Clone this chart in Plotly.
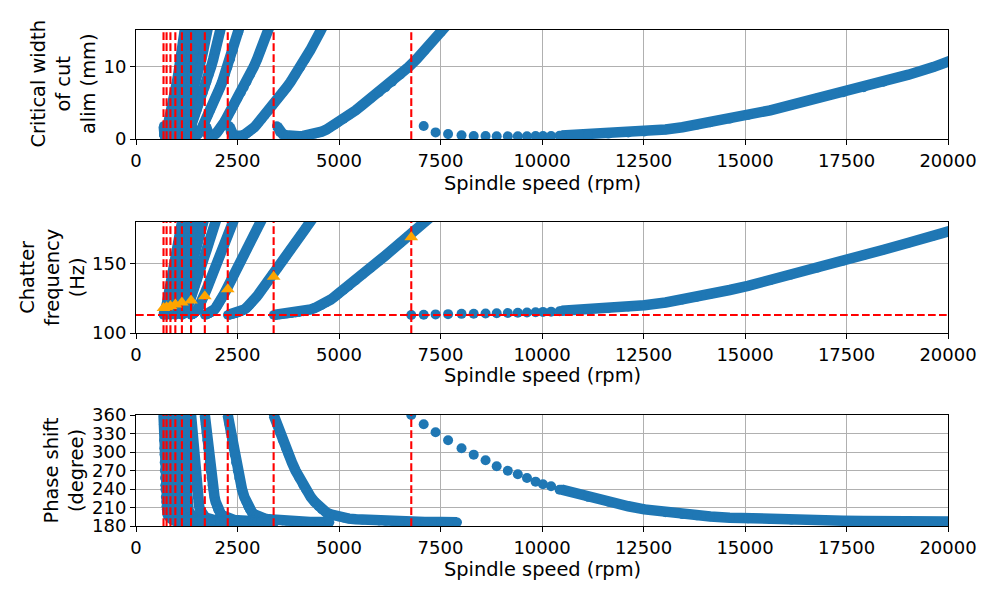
import plotly.graph_objects as go

# ---------------- data ----------------
# shared chatter-frequency samples along every lobe
fc_hz = [113.0, 113.2, 113.4, 113.6, 113.8, 114.0, 114.3, 114.6, 115.0, 115.5, 116, 117, 118, 119, 120,
         122, 124, 126, 128, 131, 134, 138, 142, 147, 152, 156, 160, 165, 170, 175, 180, 190, 200]
phase_deg = [360, 345, 332, 319, 306, 296, 283, 270, 258, 246, 239, 227, 219, 212, 207,
             202, 199, 197, 195.5, 193.5, 192, 190.8, 190, 189.2, 188.5, 188, 187.7, 187.3, 187, 186.8, 186.6, 186.3, 186]
alim_mm = [None, 1.80, 0.95, 0.68, 0.52, 0.45, 0.40, 0.38, 0.39, 0.43, 0.48, 0.60, 0.72, 0.86, 1.00,
           1.30, 1.62, 1.95, 2.28, 2.78, 3.30, 3.95, 4.70, 5.60, 6.40, 7.10, 7.85, 8.85, 9.90, 11.0, 12.2, 14.7, 17.3]

# spindle speed (rpm) of each lobe at the samples above
speed_lobe0 = [None, None, None, None, None, None, None, None, None, None, 10484, 11133, 11638, 12125, 12522,
               13046, 13459, 13815, 14142, 14623, 15075, 15623, 16143, 16782, 17418, 17923, 18412, 19028, 19636, 20236, 20836, 22030, 23226]
speed_lobe1 = [3390, 3468, 3540, 3614, 3691, 3754, 3840, 3929, 4019, 4117, 4183, 4305, 4402, 4494, 4571,
               4689, 4791, 4886, 4977, 5112, 5243, 5412, 5577, 5782, 5986, 6149, 6310, 6512, 6713, 6913, 7113, 7512, 7912]
speed_lobe2 = [2260, 2296, 2328, 2362, 2396, 2424, 2461, 2500, 2540, 2583, 2613, 2669, 2714, 2758, 2796,
               2858, 2914, 2968, 3020, 3098, 3174, 3273, 3371, 3492, 3614, 3711, 3807, 3928, 4049, 4169, 4289, 4528, 4768]
speed_lobe3 = [1695, 1716, 1735, 1754, 1774, 1790, 1811, 1834, 1857, 1881, 1900, 1934, 1962, 1989, 2014,
               2056, 2094, 2131, 2168, 2222, 2275, 2346, 2415, 2502, 2588, 2657, 2726, 2812, 2898, 2984, 3070, 3241, 3412]
speed_lobe4 = [1356, 1370, 1382, 1395, 1408, 1418, 1433, 1448, 1463, 1480, 1492, 1516, 1536, 1556, 1574,
               1605, 1634, 1663, 1690, 1732, 1774, 1828, 1882, 1949, 2016, 2070, 2123, 2190, 2257, 2324, 2390, 2524, 2657]
speed_lobe5 = [1130, 1140, 1149, 1158, 1167, 1175, 1185, 1196, 1207, 1219, 1229, 1247, 1262, 1278, 1291,
               1316, 1340, 1363, 1386, 1419, 1453, 1497, 1541, 1596, 1651, 1695, 1739, 1793, 1848, 1903, 1957, 2066, 2175]
speed_lobe6 = [969, 976, 983, 990, 997, 1003, 1011, 1019, 1027, 1037, 1044, 1059, 1071, 1084, 1095,
               1116, 1135, 1155, 1174, 1202, 1231, 1268, 1305, 1352, 1398, 1435, 1472, 1518, 1565, 1611, 1657, 1749, 1841]
speed_lobe7 = [848, 853, 859, 864, 870, 874, 881, 887, 894, 902, 908, 920, 931, 941, 951,
               968, 985, 1002, 1018, 1043, 1067, 1100, 1132, 1172, 1212, 1244, 1276, 1316, 1357, 1397, 1437, 1517, 1597]
speed_lobe8 = [753, 758, 763, 767, 772, 775, 781, 786, 792, 798, 803, 813, 823, 831, 840,
               855, 870, 885, 899, 921, 942, 971, 999, 1035, 1070, 1098, 1127, 1162, 1197, 1233, 1268, 1338, 1409]
speed_lobe9 = [678, 682, 686, 689, 693, 696, 701, 705, 710, 716, 720, 729, 737, 745, 752,
               766, 779, 792, 805, 824, 843, 869, 894, 926, 958, 983, 1008, 1040, 1072, 1103, 1135, 1198, 1261]

# widely spaced first points of lobe 0 (drawn as single dots)
lobe0_dot_speed = [6780, 7086, 7379, 7687, 8018, 8318, 8610, 8884, 9158, 9404, 9630, 9842, 10024, 10224, 10433]
lobe0_dot_alim = [None, 1.78, 0.91, 0.68, 0.50, 0.42, 0.40, 0.38, 0.38, 0.38, 0.39, 0.40, 0.41, 0.42, 0.45]
lobe0_dot_freq = [113.0, 113.2, 113.4, 113.6, 113.8, 113.9, 114.1, 114.2, 114.4, 114.6, 114.8, 115.0, 115.2, 115.4, 115.7]
lobe0_dot_phase = [360, 345, 332, 319, 306, 295.7, 286.5, 276.8, 269.7, 263.8, 257.9, 251.9, 247.6, 244.4, 238.9]

# red dashed markers: lobe start speeds and natural frequency
lobe_start_speeds = [6780, 3390, 2260, 1695, 1356, 1130, 969, 848, 753, 678]
natural_freq_hz = 113
# orange triangles in the frequency panel
triangle_freq = [169, 140.5, 131.5, 126.5, 123.5, 122, 120.5, 119.5, 118.5, 118]

x_ticks = [0, 2500, 5000, 7500, 10000, 12500, 15000, 17500, 20000]
x_range = [0, 20000]
alim_range = [0, 15]
freq_range = [100, 180]
phase_range = [180, 360]
alim_ticks = [0, 10]
freq_ticks = [100, 150]
phase_ticks = [180, 210, 240, 270, 300, 330, 360]

lobes = [speed_lobe0, speed_lobe1, speed_lobe2, speed_lobe3, speed_lobe4,
         speed_lobe5, speed_lobe6, speed_lobe7, speed_lobe8, speed_lobe9]

# ---------------- styling ----------------
BLUE = "#1f77b4"
RED = "#ff0000"
ORANGE = "#ffa500"
FONT = "DejaVu Sans"
LW = 10.5        # band (dense markers) thickness
JOINT = 9.5      # rounded joints / ends of the bands
MS = 10          # single dots
DASH = "7.7px,3.3px"
RED_W = 2.1

fig = go.Figure()

panels = [
    ("x", "y", alim_mm, lobe0_dot_alim, alim_range),
    ("x2", "y2", fc_hz, lobe0_dot_freq, freq_range),
    ("x3", "y3", phase_deg, lobe0_dot_phase, phase_range),
]

for xa, ya, values, dot_values, yr in panels:
    for sp in lobes:
        fig.add_trace(go.Scatter(
            x=sp, y=values, xaxis=xa, yaxis=ya, mode="lines+markers",
            line=dict(color=BLUE, width=LW), marker=dict(color=BLUE, size=JOINT),
            connectgaps=False, showlegend=False, hoverinfo="skip"))
    fig.add_trace(go.Scatter(
        x=lobe0_dot_speed, y=dot_values, xaxis=xa, yaxis=ya, mode="markers",
        marker=dict(color=BLUE, size=MS), showlegend=False, hoverinfo="skip"))
    vx, vy = [], []
    for s in lobe_start_speeds:
        vx += [s, s, None]
        vy += [yr[0], yr[1], None]
    fig.add_trace(go.Scatter(
        x=vx, y=vy, xaxis=xa, yaxis=ya, mode="lines",
        line=dict(color=RED, width=RED_W, dash=DASH), showlegend=False, hoverinfo="skip"))

fig.add_trace(go.Scatter(
    x=x_range, y=[natural_freq_hz, natural_freq_hz], xaxis="x2", yaxis="y2", mode="lines",
    line=dict(color=RED, width=RED_W, dash=DASH), showlegend=False, hoverinfo="skip"))
fig.add_trace(go.Scatter(
    x=lobe_start_speeds, y=triangle_freq, xaxis="x2", yaxis="y2", mode="markers",
    marker=dict(color=ORANGE, size=12, symbol="triangle-up"), showlegend=False, hoverinfo="skip"))

H_TOP, H_BOT = 30, 74
PH = 600 - H_TOP - H_BOT


def pdom(top_px, bot_px):
    return [(600 - H_BOT - bot_px) / PH, (600 - H_BOT - top_px) / PH]


axis_common = dict(
    showline=True, mirror=True, linecolor="black", linewidth=1.1,
    ticks="outside", ticklen=4.9, tickwidth=1.1, tickcolor="black",
    showgrid=True, gridcolor="#b0b0b0", gridwidth=0.8, zeroline=False,
    tickfont=dict(family=FONT, size=18, color="black"),
)

xcommon = dict(axis_common, range=x_range, tickvals=x_ticks, ticktext=[str(t) for t in x_ticks])

fig.update_layout(
    width=1000, height=600,
    margin=dict(l=136, r=52, t=H_TOP, b=H_BOT),
    paper_bgcolor="white", plot_bgcolor="white",
    showlegend=False,
    xaxis=dict(xcommon, anchor="y"),
    yaxis=dict(axis_common, range=alim_range, tickvals=alim_ticks, domain=pdom(30, 139), anchor="x"),
    xaxis2=dict(xcommon, anchor="y2"),
    yaxis2=dict(axis_common, range=freq_range, tickvals=freq_ticks, domain=pdom(222, 333), anchor="x2"),
    xaxis3=dict(xcommon, anchor="y3"),
    yaxis3=dict(axis_common, range=phase_range, tickvals=phase_ticks, domain=pdom(415, 526), anchor="x3"),
)


def px_to_paper_y(py):
    return (600 - H_BOT - py) / PH


def px_to_paper_x(px):
    return (px - 136) / (1000 - 136 - 52)


title_font = dict(family=FONT, size=19.4, color="black")
for cy in [183, 376, 569]:
    fig.add_annotation(text="Spindle speed (rpm)", xref="paper", yref="paper",
                       x=0.5, y=px_to_paper_y(cy), xanchor="center", yanchor="middle",
                       showarrow=False, font=title_font)

ytitles = [("Critical width<br>of cut<br>alim (mm)", 63, 84.5),
           ("Chatter<br>frequency<br>(Hz)", 52.5, 277.5),
           ("Phase shift<br>(degree)", 63, 470.5)]
for txt, cx, cy in ytitles:
    fig.add_annotation(text=txt, xref="paper", yref="paper",
                       x=px_to_paper_x(cx), y=px_to_paper_y(cy), xanchor="center", yanchor="middle",
                       showarrow=False, textangle=-90, align="center", font=title_font)

fig.write_html("out.html")
